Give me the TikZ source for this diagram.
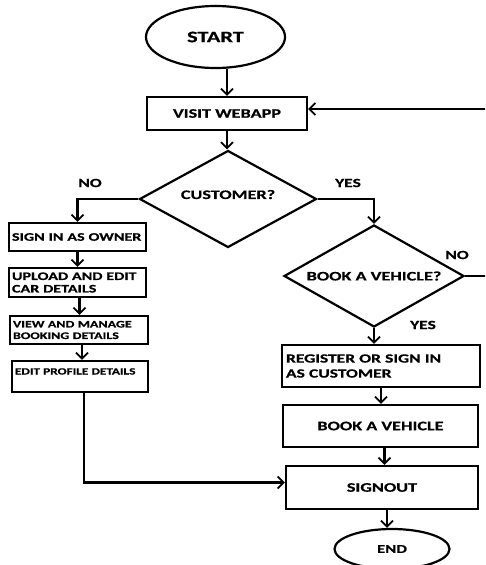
\documentclass[tikz,border=0pt]{standalone}
\usepackage{fontspec}
\setmainfont{Carlito}[FakeStretch=1.4, BoldFeatures={FakeBold=0.6}]
\usetikzlibrary{shapes.geometric,arrows.meta}

\newcommand{\fsz}[2]{\fontsize{#1}{#2}\selectfont}

\tikzset{
	box/.style={draw, rectangle, line width=2.2pt, inner sep=2pt},
	decision/.style={draw, diamond, aspect=2, line width=2.2pt, inner sep=0pt},
	term/.style={draw, ellipse, line width=2.2pt, inner sep=0pt},
	arr/.style={line width=2.2pt, -{Straight Barb[length=6pt,width=12pt,line width=1.8pt]}},
	lbl/.style={font=\bfseries\fsz{12.5}{14}}
}

\begin{document}
\begin{tikzpicture}[x=1pt, y=-1pt]
	\path[use as bounding box, clip] (0,0) rectangle (485,565);

	% main line
	\node[term, minimum width=139pt, minimum height=62pt, font=\bfseries\fsz{16}{18}] (start) at (215.5,37) {START};
	\node[box, minimum width=160pt, minimum height=33pt, font=\bfseries\fsz{13}{15}] (visit) at (227,113.5) {VISIT WEBAPP};
	\node[decision, minimum width=177pt, minimum height=97pt, font=\bfseries\fsz{13}{15}, text depth=9pt] (cust) at (228,199) {CUSTOMER?};

	% owner side
	\node[box, text width=131pt, minimum height=28pt, align=left, inner sep=3pt, font=\bfseries\fsz{11.5}{13}] (owner) at (77.5,237) {SIGN IN AS OWNER};
	\node[box, text width=131pt, minimum height=29pt, align=left, inner sep=3pt, font=\bfseries\fsz{11.5}{12.5}] (upload) at (77.5,282.5) {UPLOAD AND EDIT\\CAR DETAILS};
	\node[box, text width=132pt, minimum height=28pt, align=left, inner sep=3pt, font=\bfseries\fsz{10}{11.5}] (manage) at (79,330) {VIEW AND MANAGE\\BOOKING DETAILS};
	\node[box, text width=130pt, minimum height=31pt, align=left, inner sep=3pt, text height=7pt, text depth=11pt, font=\bfseries\fsz{9.5}{11}] (profile) at (80,376.5) {EDIT PROFILE DETAILS};

	% customer side
	\node[decision, minimum width=180pt, minimum height=102pt, font=\bfseries\fsz{13}{15}] (bookq) at (374,276) {BOOK A VEHICLE?};
	\node[box, text width=190pt, minimum height=42pt, align=left, inner sep=4pt, font=\bfseries\fsz{12.5}{15}] (register) at (381,366) {REGISTER OR SIGN IN\\AS CUSTOMER};
	\node[box, minimum width=195pt, minimum height=42pt, font=\bfseries\fsz{13}{15}] (book) at (380.5,426) {BOOK A VEHICLE};
	\node[box, minimum width=192pt, minimum height=43pt, font=\bfseries\fsz{13}{15}] (signout) at (382,487.5) {SIGNOUT};
	\node[term, minimum width=115pt, minimum height=40pt, font=\bfseries\fsz{12}{14}] (end) at (392,549) {END};

	% labels
	\node[lbl] (no1) at (90,183) {NO};
	\node[lbl] (yes1) at (348,183) {YES};
	\node[lbl] (no2) at (457,255) {NO};
	\node[lbl] (yes2) at (423,325) {YES};

	% arrows
	\draw[arr] (start.south -| visit.north) -- (visit.north);
	\draw[arr] (visit.south) -- (visit.south |- cust.north);
	\draw[arr] (cust.west) -| (owner.north);
	\draw[arr] (owner.south) -- (owner.south |- upload.north);
	\draw[arr] ([xshift=2pt]upload.south) -- ([xshift=2pt]upload.south |- manage.north);
	\draw[arr] ([xshift=3pt]manage.south) -- ([xshift=3pt]manage.south |- profile.north);
	\draw[arr] ([xshift=4pt]profile.south) |- ([yshift=5pt]signout.west);
	\draw[arr] (cust.east) -| (bookq.north);
	\draw[arr] (bookq.south) -- (bookq.south |- register.north);
	\draw[arr] (register.south) -- (register.south |- book.north);
	\draw[arr] ([xshift=4pt]book.south) -- ([xshift=4pt]book.south |- signout.north);
	\draw[arr] ([xshift=5pt]signout.south) -- ([xshift=5pt]signout.south |- end.north);
	\draw[arr] (bookq.east) -- ++(30,0) |- ([yshift=4.5pt]visit.east);
\end{tikzpicture}
\end{document}
